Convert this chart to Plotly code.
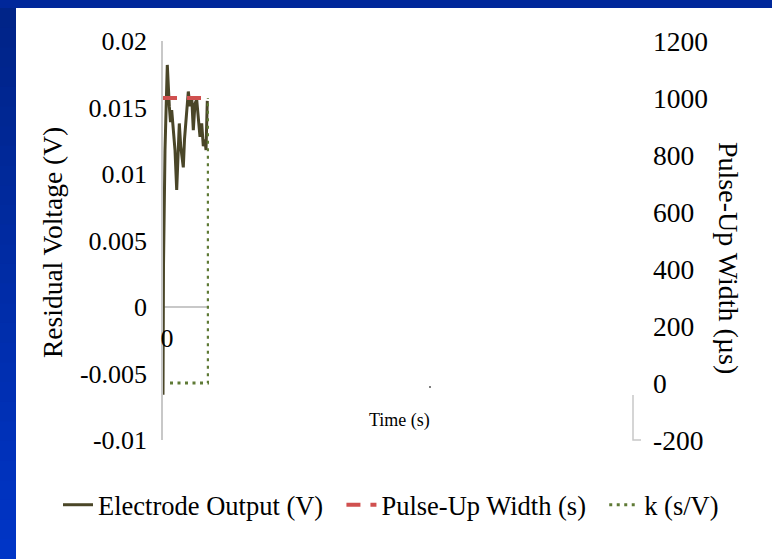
import plotly.graph_objects as go

# Electrode output trace (time in s, residual voltage in V)
time_s = [0.0, 0.005, 0.02, 0.043, 0.063, 0.075, 0.087, 0.103, 0.12, 0.137,
          0.155, 0.163, 0.177, 0.19, 0.203, 0.215, 0.237, 0.253, 0.27, 0.287,
          0.303, 0.32, 0.337, 0.353, 0.37, 0.387, 0.403, 0.42, 0.43, 0.443]
electrode_v = [-0.0066, 0.0032, 0.0118, 0.0182, 0.0151, 0.0139, 0.0148, 0.0136, 0.0118, 0.0088,
               0.0131, 0.0138, 0.0121, 0.0111, 0.0105, 0.0126, 0.0146, 0.0162, 0.0151, 0.0158,
               0.0133, 0.0153, 0.0156, 0.0141, 0.0128, 0.0138, 0.0121, 0.0126, 0.0118, 0.0155]

# Pulse-up width (plotted on the right axis)
pulse_t = [0.0, 0.443]
pulse_w = [1000, 1000]

# k series (right axis)
k_t = [0.07, 0.453, 0.453]
k_val = [0, 0, 1000]

left_ticks = [0.02, 0.015, 0.01, 0.005, 0, -0.005, -0.01]
left_labels = ["0.02", "0.015", "0.01", "0.005", "0", "-0.005", "-0.01"]
right_ticks = [1200, 1000, 800, 600, 400, 200, 0, -200]
right_labels = ["1200", "1000", "800", "600", "400", "200", "0", "-200"]

W, H = 772, 559
FONT = "Times New Roman, Liberation Serif, serif"
NBSP = "\u00a0"


def px(x):
    return x / W


def py(y):
    return 1 - y / H


fig = go.Figure()
fig.add_trace(go.Scatter(x=time_s, y=electrode_v, mode="lines",
                         name="Electrode Output (V)" + NBSP * 2,
                         line=dict(color="#4a4628", width=3)))
fig.add_trace(go.Scatter(x=pulse_t, y=pulse_w, mode="lines",
                         name="Pulse-Up Width (s)" + NBSP * 2, yaxis="y2",
                         line=dict(color="#d0504f", width=4, dash="14px,10px")))
fig.add_trace(go.Scatter(x=k_t, y=k_val, mode="lines", name="k (s/V)", yaxis="y2",
                         line=dict(color="#5f7a36", width=3, dash="3px,4.5px")))

# slide frame: blue paper, white content panel, darker-to-lighter band on the left
shapes = [dict(type="rect", xref="paper", yref="paper", x0=px(16), x1=1, y0=0, y1=py(8),
               fillcolor="white", line_width=0, layer="below")]
bands = 28
for i in range(bands):
    f = i / (bands - 1)
    g = int(0x24 + (0x35 - 0x24) * f)
    b = int(0x88 + (0xc6 - 0x88) * f)
    y0 = 8 + i * (H - 8) / bands
    y1 = 8 + (i + 1) * (H - 8) / bands + 1
    shapes.append(dict(type="rect", xref="paper", yref="paper", x0=0, x1=px(16),
                       y0=py(min(y1, H)), y1=py(y0), fillcolor=f"rgb(0,{g},{b})",
                       line_width=0, layer="below"))
# secondary axis stub and stray marker
shapes.append(dict(type="path", xref="paper", yref="paper",
                   path=f"M {px(633)} {py(395)} L {px(633)} {py(440)} L {px(641)} {py(440)}",
                   line=dict(color="#c8c8c8", width=1.5)))
shapes.append(dict(type="circle", xref="paper", yref="paper", x0=px(429), x1=px(431),
                   y0=py(388), y1=py(386), fillcolor="#555", line_width=0))

annotations = [
    dict(text="Residual Voltage (V)", x=px(52), y=py(243), xref="paper", yref="paper",
         xanchor="center", yanchor="middle",
         textangle=-90, showarrow=False, font=dict(family=FONT, size=27.5, color="black")),
    dict(text="Pulse-Up Width (µs)", x=px(729), y=py(258), xref="paper", yref="paper",
         xanchor="center", yanchor="middle",
         textangle=90, showarrow=False, font=dict(family=FONT, size=28, color="black")),
    dict(text="Time (s)", x=px(400), y=py(420), xref="paper", yref="paper",
         xanchor="center", yanchor="middle",
         showarrow=False, font=dict(family=FONT, size=18, color="black")),
]

fig.update_layout(
    template="none",
    width=W, height=H,
    margin=dict(l=0, r=0, t=0, b=0, pad=0, autoexpand=False),
    paper_bgcolor="#00279a", plot_bgcolor="rgba(0,0,0,0)",
    font=dict(family=FONT, size=26, color="black"),
    shapes=shapes, annotations=annotations,
    xaxis=dict(domain=[px(163), px(209)], range=[0, 0.46], anchor="free", position=py(320),
               automargin=False,
               showgrid=False, zeroline=False, showline=False, ticks="",
               tickvals=[0], ticktext=["0"], ticklabelshift=4, tickfont=dict(size=26)),
    yaxis=dict(domain=[py(440), py(41)], range=[-0.01, 0.02], showgrid=False,
               automargin=False,
               tickvals=left_ticks, ticktext=left_labels, ticks="",
               ticklabelstandoff=9,
               showline=True, linecolor="#c8c8c8", linewidth=1.5,
               zeroline=True, zerolinecolor="#c8c8c8", zerolinewidth=1.5),
    yaxis2=dict(domain=[py(440), py(41)], range=[-200, 1200], overlaying="y", side="right",
                automargin=False,
                anchor="free", position=px(652), showgrid=False, zeroline=False,
                showline=False, ticks="", tickvals=right_ticks, ticktext=right_labels,
                tickfont=dict(size=27.5)),
    legend=dict(orientation="h", x=px(58), xanchor="left", y=py(505), yanchor="middle",
                font=dict(family=FONT, size=26.5), bgcolor="rgba(0,0,0,0)"),
)

fig.write_html("out.html")
